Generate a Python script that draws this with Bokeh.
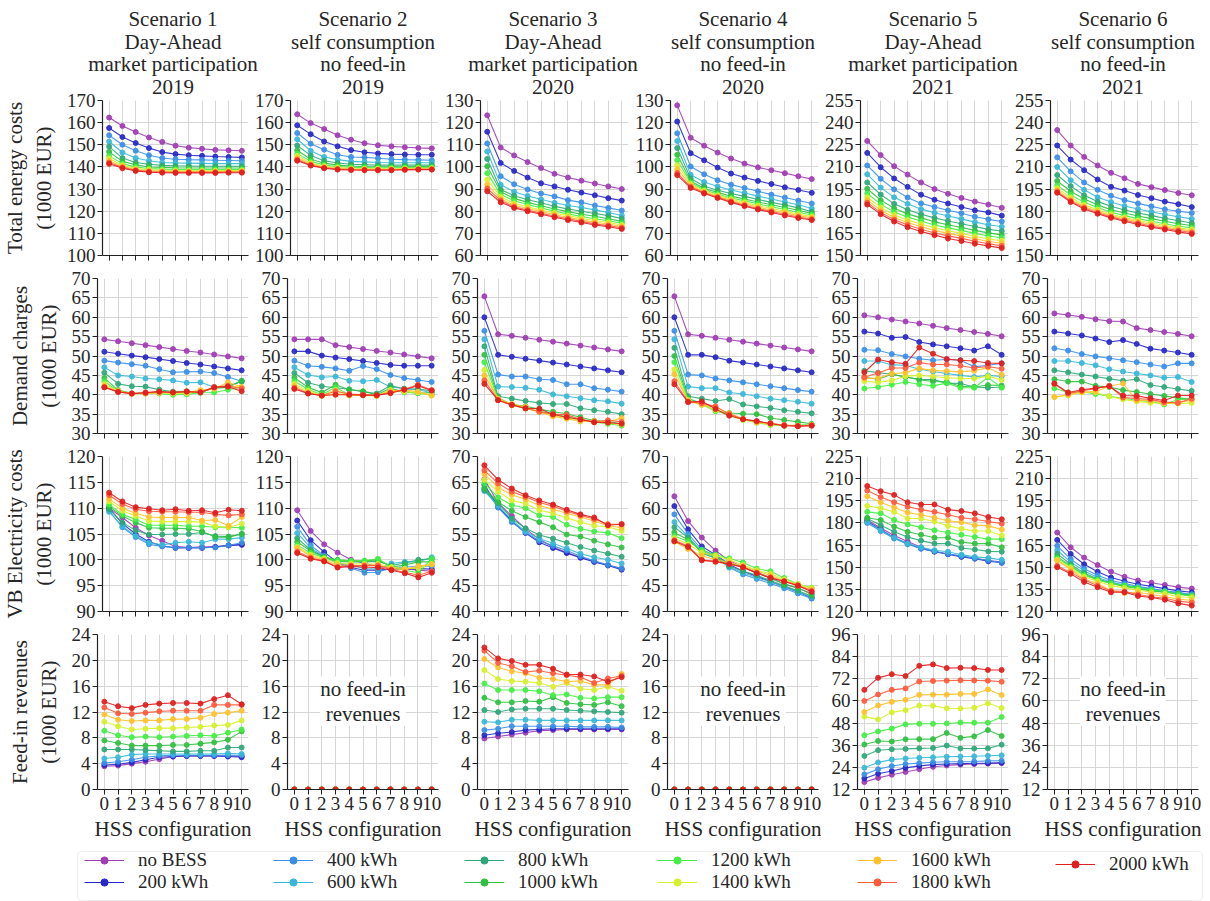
from bokeh.plotting import figure
from bokeh.layouts import column, row
from bokeh.models import FixedTicker, Range1d, Label, Legend, LegendItem, BoxAnnotation
from bokeh.embed import file_html
from bokeh.resources import INLINE

FONT = "Liberation Serif"
TXT = "#262626"
NAN = float("nan")

# ---------------- data ----------------
hss_config = [0, 1, 2, 3, 4, 5, 6, 7, 8, 9, 10]
hss_tick_labels = ["0", "1", "2", "3", "4", "5", "6", "7", "8", "9", "10"]

bess_labels = ["no BESS", "200 kWh", "400 kWh", "600 kWh", "800 kWh", "1000 kWh",
               "1200 kWh", "1400 kWh", "1600 kWh", "1800 kWh", "2000 kWh"]
bess_colors = ["#a03cb4", "#2828c8", "#3a8ee8", "#38b8d8", "#2ea878", "#30c040",
               "#44ee44", "#d6f02c", "#ffc12c", "#ff5a3c", "#e01e1e"]

scenario_titles = [
    ["Scenario 1", "Day-Ahead", "market participation", "2019"],
    ["Scenario 2", "self consumption", "no feed-in", "2019"],
    ["Scenario 3", "Day-Ahead", "market participation", "2020"],
    ["Scenario 4", "self consumption", "no feed-in", "2020"],
    ["Scenario 5", "Day-Ahead", "market participation", "2021"],
    ["Scenario 6", "self consumption", "no feed-in", "2021"],
]
row_labels = ["Total energy costs\n(1000 EUR)", "Demand charges\n(1000 EUR)",
              "VB Electricity costs\n(1000 EUR)", "Feed-in revenues\n(1000 EUR)"]
x_label = "HSS configuration"
no_feed_in_text = "no feed-in\nrevenues"

ticks_total_2019 = [100, 110, 120, 130, 140, 150, 160, 170]
ticks_total_2020 = [60, 70, 80, 90, 100, 110, 120, 130]
ticks_total_2021 = [150, 165, 180, 195, 210, 225, 240, 255]
ticks_demand = [30, 35, 40, 45, 50, 55, 60, 65, 70]
ticks_vb_2019 = [90, 95, 100, 105, 110, 115, 120]
ticks_vb_2020 = [40, 45, 50, 55, 60, 65, 70]
ticks_vb_2021 = [120, 135, 150, 165, 180, 195, 210, 225]
ticks_feedin = [0, 4, 8, 12, 16, 20, 24]
ticks_feedin_2021 = [12, 24, 36, 48, 60, 72, 84, 96]

# Total energy costs (1000 EUR), one list per BESS size
total_s1 = [
    [162.3, 158.5, 155.8, 153.3, 151.3, 149.6, 148.7, 148.2, 147.7, 147.5, 147.3],
    [157.6, 153.5, 150.8, 148.5, 146.7, 145.8, 145.3, 145.0, 144.7, 144.5, 144.3],
    [154.3, 150.0, 147.3, 145.3, 144.0, 143.5, 143.3, 143.2, 143.0, 142.9, 142.8],
    [151.5, 146.5, 144.0, 142.8, 142.0, 141.8, 141.7, 141.6, 141.5, 141.5, 141.5],
    [149.2, 144.0, 142.0, 141.2, 140.7, 140.5, 140.4, 140.3, 140.3, 140.3, 140.3],
    [146.8, 142.5, 141.0, 140.0, 139.8, 139.6, 139.5, 139.5, 139.5, 139.5, 139.5],
    [145.0, 141.5, 140.0, 139.3, 139.0, 138.9, 138.8, 138.8, 138.8, 138.8, 138.9],
    [143.8, 140.8, 139.3, 138.8, 138.5, 138.4, 138.3, 138.3, 138.3, 138.4, 138.4],
    [142.8, 140.2, 138.8, 138.3, 138.0, 137.9, 137.9, 137.9, 137.9, 137.9, 138.0],
    [142.0, 139.8, 138.5, 137.9, 137.7, 137.6, 137.6, 137.6, 137.6, 137.7, 137.7],
    [141.4, 139.4, 138.2, 137.6, 137.4, 137.3, 137.3, 137.3, 137.3, 137.4, 137.4],
]
total_s2 = [
    [163.8, 159.8, 157.1, 154.3, 152.3, 150.7, 149.8, 149.3, 148.9, 148.6, 148.4],
    [158.8, 154.8, 151.5, 149.3, 147.6, 146.6, 146.1, 145.8, 145.6, 145.5, 145.5],
    [155.3, 150.5, 147.8, 145.5, 144.5, 144.3, 143.9, 143.5, 143.3, 143.2, 143.0],
    [152.5, 147.3, 144.5, 143.3, 142.5, 142.3, 142.0, 141.9, 141.9, 141.9, 141.9],
    [149.7, 145.2, 142.8, 141.8, 141.2, 141.0, 140.8, 140.8, 140.8, 140.8, 140.8],
    [147.5, 143.5, 141.7, 140.8, 140.4, 140.2, 140.1, 140.1, 140.1, 140.2, 140.2],
    [146.0, 142.5, 140.9, 140.2, 139.8, 139.7, 139.6, 139.6, 139.7, 139.7, 139.8],
    [145.0, 141.8, 140.3, 139.7, 139.3, 139.2, 139.2, 139.2, 139.3, 139.4, 139.4],
    [144.0, 141.3, 139.9, 139.3, 139.0, 138.9, 138.9, 138.9, 139.0, 139.1, 139.1],
    [143.3, 140.9, 139.6, 139.0, 138.8, 138.7, 138.7, 138.7, 138.8, 138.9, 138.9],
    [142.8, 140.6, 139.4, 138.8, 138.6, 138.5, 138.5, 138.5, 138.7, 138.8, 138.8],
]
total_s3 = [
    [123.3, 108.8, 105.2, 102.2, 99.5, 96.9, 95.2, 93.8, 92.5, 91.2, 90.0],
    [115.9, 101.8, 98.2, 95.2, 92.6, 91.2, 89.7, 88.4, 87.2, 85.9, 84.8],
    [110.6, 95.8, 92.2, 89.8, 88.0, 86.7, 85.0, 84.0, 82.6, 81.5, 80.3],
    [107.0, 92.0, 88.8, 86.9, 85.4, 83.8, 82.6, 81.7, 80.6, 79.4, 78.1],
    [103.6, 89.8, 87.0, 85.2, 83.8, 82.2, 81.0, 80.0, 79.0, 78.0, 76.7],
    [100.3, 88.8, 85.8, 84.0, 82.5, 81.0, 79.8, 78.6, 77.7, 76.6, 75.4],
    [97.2, 87.5, 84.7, 83.0, 81.5, 80.0, 78.8, 77.6, 76.6, 75.7, 74.6],
    [94.3, 86.5, 83.5, 82.0, 80.5, 79.2, 78.0, 76.8, 75.8, 74.9, 73.8],
    [92.0, 85.5, 82.7, 81.2, 79.8, 78.5, 77.2, 76.1, 75.0, 74.2, 73.1],
    [90.3, 84.8, 82.0, 80.5, 79.1, 77.8, 76.6, 75.4, 74.3, 73.5, 72.5],
    [89.0, 84.0, 81.5, 80.0, 78.6, 77.3, 76.0, 74.9, 73.8, 73.0, 72.0],
]
total_s4 = [
    [127.8, 113.2, 109.6, 106.5, 103.8, 101.5, 99.8, 98.5, 97.2, 95.8, 94.5],
    [120.5, 106.2, 103.0, 99.7, 97.0, 95.2, 93.7, 92.3, 90.8, 89.6, 88.3],
    [115.2, 100.2, 96.7, 94.0, 92.0, 90.5, 89.0, 87.5, 86.2, 84.8, 83.5],
    [111.7, 96.5, 93.2, 91.2, 89.6, 88.2, 86.8, 85.5, 84.2, 82.9, 81.2],
    [108.5, 94.8, 91.3, 89.5, 88.0, 86.7, 85.3, 84.0, 82.8, 81.5, 79.8],
    [105.5, 93.6, 90.3, 88.5, 86.8, 85.5, 84.2, 82.9, 81.7, 80.4, 79.0],
    [103.0, 93.0, 89.6, 87.8, 86.0, 84.7, 83.3, 82.0, 80.8, 79.5, 78.3],
    [100.8, 92.3, 89.2, 87.2, 85.4, 84.0, 82.5, 81.2, 80.0, 78.7, 77.6],
    [99.0, 91.7, 88.7, 86.7, 84.9, 83.3, 81.8, 80.5, 79.3, 78.0, 77.0],
    [97.3, 91.0, 88.3, 86.3, 84.4, 82.7, 81.2, 79.9, 78.6, 77.4, 76.4],
    [96.3, 90.5, 88.0, 86.0, 84.0, 82.3, 80.8, 79.4, 78.1, 76.9, 76.0],
]
total_s5 = [
    [227.6, 218.0, 210.5, 204.8, 199.5, 195.0, 191.8, 189.0, 186.5, 184.5, 182.3],
    [219.5, 209.8, 202.2, 196.5, 191.2, 187.8, 185.2, 182.8, 180.6, 179.2, 177.0],
    [211.0, 202.0, 194.8, 189.3, 185.3, 182.8, 180.6, 178.6, 176.3, 174.5, 173.0],
    [205.0, 196.0, 189.4, 185.0, 181.4, 179.0, 176.8, 174.8, 172.6, 170.8, 169.5],
    [199.5, 191.3, 185.0, 181.0, 178.0, 175.5, 173.4, 171.5, 169.7, 167.7, 166.6],
    [195.2, 187.5, 182.0, 178.2, 175.5, 172.8, 170.8, 169.0, 167.0, 165.3, 164.0],
    [192.0, 184.8, 179.5, 176.0, 173.4, 170.7, 168.7, 167.0, 165.0, 163.2, 162.0],
    [189.5, 182.5, 177.5, 174.0, 171.3, 168.8, 166.8, 165.0, 163.0, 161.2, 160.0],
    [187.5, 180.7, 175.8, 172.3, 169.5, 167.0, 165.0, 163.3, 161.3, 159.5, 158.3],
    [185.8, 179.2, 174.3, 170.6, 167.8, 165.3, 163.3, 161.6, 159.6, 158.0, 156.5],
    [184.5, 178.0, 173.0, 169.2, 166.3, 163.8, 161.5, 159.8, 158.0, 156.5, 155.0],
]
total_s6 = [
    [235.0, 224.5, 216.8, 211.0, 206.0, 202.3, 198.5, 196.3, 194.3, 192.3, 190.8],
    [224.5, 215.0, 207.8, 201.5, 196.5, 194.0, 191.0, 188.8, 186.5, 184.8, 182.8],
    [216.5, 207.0, 199.5, 194.5, 190.5, 187.5, 185.3, 183.3, 181.3, 180.0, 178.8],
    [210.0, 201.0, 194.5, 189.5, 186.2, 183.5, 181.5, 179.6, 177.8, 176.2, 174.8],
    [204.5, 197.0, 190.8, 186.5, 183.3, 180.8, 178.8, 177.0, 175.2, 173.5, 172.0],
    [200.5, 193.5, 188.3, 184.3, 181.0, 178.8, 176.8, 175.0, 173.2, 171.5, 170.3],
    [197.5, 191.0, 186.0, 182.5, 179.3, 177.0, 175.0, 173.2, 171.5, 169.8, 168.8],
    [195.5, 189.3, 184.3, 181.0, 178.0, 175.8, 173.7, 172.0, 170.3, 168.7, 167.6],
    [194.3, 188.0, 183.2, 180.0, 177.0, 174.8, 172.8, 171.0, 169.3, 167.8, 166.5],
    [193.3, 187.0, 182.3, 179.0, 176.2, 173.9, 171.8, 170.0, 168.4, 166.9, 165.5],
    [192.5, 186.2, 181.5, 178.3, 175.5, 173.2, 171.0, 169.2, 167.6, 166.0, 164.6],
]

# Demand charges (1000 EUR)
demand_s1 = [
    [54.3, 53.8, 53.3, 52.8, 52.3, 51.8, 51.3, 50.9, 50.4, 49.9, 49.4],
    [51.1, 50.6, 50.1, 49.7, 49.2, 48.7, 48.2, 47.8, 47.3, 46.8, 46.3],
    [48.8, 48.3, 47.9, 47.5, 46.6, 45.8, 45.9, 46.0, 45.6, 44.6, 43.5],
    [47.1, 45.0, 44.7, 44.2, 44.0, 43.7, 43.1, 43.2, 42.0, 42.0, 43.6],
    [45.7, 42.8, 42.2, 42.1, 41.3, 40.8, 40.9, 40.6, 41.8, 42.2, 43.4],
    [44.3, 41.2, 40.4, 40.3, 40.9, 40.5, 40.6, 40.7, 41.7, 41.9, 43.6],
    [43.5, 40.9, 40.3, 40.5, 40.3, 40.0, 40.1, 40.5, 40.6, 41.3, 42.0],
    [42.8, 41.0, 40.2, 40.4, 40.5, 40.3, 40.4, 40.7, 41.8, 42.3, 41.9],
    [42.3, 40.9, 40.3, 40.3, 40.5, 40.5, 40.6, 41.2, 41.5, 43.2, 42.0],
    [42.0, 40.8, 40.3, 40.6, 40.8, 40.6, 40.9, 40.7, 42.0, 42.3, 41.6],
    [41.9, 40.7, 40.3, 40.5, 40.8, 40.6, 40.8, 40.6, 41.9, 42.1, 40.9],
]
demand_s2 = [
    [54.3, 54.3, 54.3, 52.8, 52.3, 51.8, 51.3, 50.9, 50.4, 49.9, 49.4],
    [51.2, 51.2, 50.1, 49.6, 49.2, 48.7, 48.2, 47.7, 47.5, 47.5, 47.5],
    [48.8, 47.5, 47.2, 46.8, 46.2, 47.4, 46.6, 45.1, 44.3, 43.8, 43.3],
    [47.1, 45.1, 44.5, 44.7, 43.6, 43.5, 43.8, 42.0, 41.6, 41.3, 40.5],
    [45.6, 43.1, 42.2, 41.8, 41.4, 40.8, 40.3, 42.4, 41.5, 41.5, 41.0],
    [44.4, 41.9, 40.6, 42.6, 41.3, 40.9, 40.0, 41.7, 40.7, 40.4, 40.6],
    [43.5, 41.4, 40.0, 41.9, 40.0, 40.0, 39.7, 41.2, 40.8, 40.4, 40.0],
    [42.8, 41.0, 39.8, 41.2, 39.8, 39.8, 39.7, 41.2, 40.8, 40.6, 39.8],
    [42.3, 40.6, 39.7, 40.3, 39.9, 39.9, 39.8, 40.9, 41.2, 40.8, 39.8],
    [41.8, 40.4, 39.8, 40.9, 40.2, 40.0, 39.8, 40.6, 41.4, 42.6, 41.2],
    [41.5, 40.3, 39.8, 40.0, 40.0, 39.9, 39.9, 40.4, 41.3, 42.3, 41.1],
]
demand_s3 = [
    [65.4, 55.6, 55.2, 54.7, 54.2, 53.7, 53.2, 52.7, 52.2, 51.7, 51.2],
    [60.0, 50.3, 49.8, 49.3, 48.8, 48.3, 47.8, 47.3, 46.8, 46.3, 45.8],
    [56.5, 45.2, 44.7, 44.7, 44.0, 43.8, 42.7, 42.7, 41.7, 41.3, 40.8],
    [54.3, 42.1, 42.0, 41.8, 41.3, 40.1, 39.6, 39.1, 38.6, 38.3, 37.7],
    [52.5, 39.6, 39.0, 38.4, 37.9, 37.6, 37.6, 36.5, 36.0, 35.6, 35.0],
    [50.3, 39.2, 37.5, 37.0, 36.3, 35.6, 35.1, 34.2, 33.3, 33.1, 32.5],
    [48.4, 38.9, 37.3, 36.4, 35.8, 35.0, 34.3, 33.6, 32.9, 32.5, 32.0],
    [46.4, 38.8, 37.4, 36.5, 35.6, 34.6, 34.0, 33.4, 32.9, 32.7, 32.3],
    [45.0, 39.0, 37.6, 36.9, 35.6, 34.4, 33.8, 33.1, 33.2, 33.0, 34.0],
    [43.7, 38.6, 37.3, 36.5, 35.6, 35.0, 34.8, 33.7, 33.0, 33.4, 33.0],
    [42.8, 38.6, 37.4, 36.5, 36.4, 34.9, 34.2, 33.6, 32.9, 32.8, 32.5],
]
demand_s4 = [
    [65.4, 55.6, 55.2, 54.7, 54.2, 53.7, 53.2, 52.7, 52.2, 51.7, 51.2],
    [60.0, 50.3, 50.3, 49.7, 48.8, 48.3, 47.8, 47.3, 46.8, 46.3, 45.8],
    [56.5, 45.2, 45.0, 44.2, 43.7, 43.2, 42.7, 42.2, 41.7, 41.2, 40.8],
    [54.3, 42.1, 41.7, 41.7, 40.6, 40.2, 39.6, 39.0, 38.6, 38.2, 37.7],
    [52.1, 39.6, 39.0, 38.4, 38.9, 37.5, 37.0, 36.6, 36.0, 35.6, 35.2],
    [50.0, 39.0, 37.8, 35.8, 35.3, 35.1, 35.0, 34.0, 33.5, 33.0, 32.5],
    [48.4, 38.7, 37.5, 35.8, 34.8, 33.6, 32.8, 32.2, 32.0, 32.2, 32.3],
    [46.5, 38.6, 37.4, 36.0, 34.8, 33.5, 32.9, 32.3, 32.1, 32.0, 32.1],
    [45.3, 38.4, 37.4, 36.7, 35.2, 33.8, 32.8, 32.5, 32.2, 32.0, 32.2],
    [43.5, 38.2, 37.8, 37.0, 35.0, 33.7, 33.1, 32.6, 32.2, 31.9, 32.1],
    [42.7, 38.1, 38.3, 36.3, 34.6, 33.7, 33.2, 32.6, 32.0, 31.9, 32.0],
]
demand_s5 = [
    [60.5, 60.0, 59.4, 58.9, 58.4, 57.8, 57.2, 56.7, 56.2, 55.7, 55.1],
    [56.3, 55.8, 54.7, 54.9, 53.6, 53.0, 52.5, 52.0, 51.4, 52.5, 50.3],
    [51.6, 51.5, 50.5, 49.9, 49.3, 48.9, 49.1, 48.9, 47.2, 47.6, 48.1],
    [48.7, 48.7, 47.7, 47.6, 46.6, 46.0, 45.5, 45.0, 44.6, 45.0, 44.7],
    [46.2, 45.7, 45.3, 44.6, 44.0, 43.9, 43.0, 42.9, 42.0, 41.8, 42.0],
    [44.5, 44.0, 45.3, 44.6, 43.9, 43.4, 43.3, 42.2, 42.0, 42.5, 42.4],
    [41.6, 42.0, 42.6, 43.3, 42.7, 42.3, 43.0, 41.8, 41.8, 44.5, 41.8],
    [43.5, 43.2, 43.7, 44.8, 45.0, 44.7, 44.4, 44.2, 44.2, 44.8, 43.8],
    [44.2, 44.3, 45.4, 45.7, 46.8, 46.3, 46.1, 45.9, 46.2, 47.0, 45.2],
    [44.5, 45.6, 46.9, 46.9, 48.3, 47.8, 47.8, 47.5, 46.9, 47.3, 46.7],
    [45.8, 49.1, 48.4, 48.0, 52.2, 50.6, 49.2, 48.9, 48.7, 48.2, 48.1],
]
demand_s6 = [
    [61.0, 60.6, 60.1, 59.5, 59.0, 58.9, 57.2, 56.7, 56.2, 55.7, 55.1],
    [56.3, 55.8, 55.3, 54.5, 53.6, 54.1, 53.1, 51.9, 51.4, 50.9, 50.3],
    [52.0, 51.4, 50.5, 49.9, 49.4, 48.9, 48.4, 47.8, 47.3, 48.1, 48.1],
    [48.7, 48.7, 48.2, 47.6, 46.6, 46.0, 45.5, 45.0, 44.4, 44.6, 43.3],
    [46.3, 45.8, 45.2, 44.7, 44.1, 43.6, 44.0, 42.5, 42.0, 41.5, 41.0],
    [44.0, 43.4, 43.4, 42.3, 42.0, 41.2, 40.7, 40.2, 39.7, 39.2, 38.8],
    [41.7, 40.6, 40.8, 40.2, 39.6, 39.1, 38.6, 38.3, 37.5, 38.8, 38.8],
    [39.4, 39.8, 40.6, 40.6, 39.6, 38.8, 38.3, 37.9, 37.8, 37.7, 37.9],
    [39.4, 40.0, 40.7, 40.8, 42.2, 42.9, 38.5, 38.5, 37.8, 38.0, 38.6],
    [42.8, 40.3, 41.0, 41.6, 42.3, 39.3, 39.0, 38.8, 38.1, 37.9, 39.0],
    [42.9, 40.6, 41.3, 41.7, 42.2, 39.8, 39.7, 39.1, 38.5, 39.8, 39.8],
]

# VB electricity costs (1000 EUR)
vb_s1 = [
    [110.0, 108.2, 106.2, 104.7, 103.7, 102.6, 102.4, 102.5, 102.5, 102.8, 103.0],
    [110.0, 107.0, 105.0, 103.5, 102.7, 102.3, 102.3, 102.3, 102.5, 102.8, 102.9],
    [109.5, 106.3, 104.4, 103.0, 102.6, 102.4, 102.4, 102.4, 102.4, 102.8, 103.3],
    [109.3, 106.5, 104.6, 103.3, 102.9, 103.3, 103.5, 103.3, 104.0, 104.0, 104.3],
    [109.8, 107.2, 105.7, 104.9, 104.9, 105.0, 105.0, 105.3, 104.6, 104.5, 105.0],
    [110.3, 108.5, 107.2, 106.2, 106.1, 106.1, 106.0, 105.5, 104.4, 104.4, 105.0],
    [110.7, 108.8, 107.8, 106.7, 106.7, 106.7, 106.5, 106.5, 106.3, 106.3, 106.2],
    [111.3, 109.5, 108.5, 107.5, 107.4, 107.4, 107.4, 107.3, 106.5, 106.3, 107.0],
    [111.8, 110.0, 109.0, 108.3, 108.2, 108.2, 108.2, 107.6, 107.7, 106.6, 108.3],
    [112.5, 110.8, 109.8, 109.4, 109.3, 109.3, 109.2, 109.2, 108.8, 108.6, 108.8],
    [113.0, 111.3, 110.2, 109.9, 109.6, 109.8, 109.5, 109.6, 109.1, 109.7, 109.5],
]
vb_s2 = [
    [109.6, 105.6, 103.0, 101.4, 100.0, 99.3, 98.8, 98.5, 98.3, 98.0, 97.8],
    [107.6, 103.8, 101.5, 99.5, 98.5, 98.0, 98.0, 98.2, 98.2, 98.3, 98.2],
    [106.4, 102.8, 100.8, 99.2, 98.4, 97.5, 97.6, 98.5, 98.6, 98.7, 98.8],
    [105.2, 102.3, 100.6, 99.4, 99.0, 98.3, 98.2, 99.3, 99.6, 99.6, 100.5],
    [104.2, 101.9, 100.6, 99.7, 99.6, 99.6, 99.7, 98.9, 99.4, 100.0, 100.2],
    [103.5, 101.7, 100.5, 100.0, 99.8, 99.8, 100.0, 98.6, 99.0, 99.6, 99.6],
    [102.9, 101.3, 100.4, 99.8, 99.8, 99.8, 100.2, 98.6, 98.0, 97.5, 100.2],
    [102.5, 101.0, 100.2, 99.4, 99.3, 99.2, 99.2, 98.6, 98.3, 98.4, 99.2],
    [102.3, 100.7, 100.0, 99.0, 99.0, 98.9, 99.0, 98.3, 98.1, 98.8, 99.1],
    [101.6, 100.4, 99.8, 98.6, 98.9, 98.9, 98.9, 98.1, 97.6, 97.0, 97.8],
    [101.3, 100.2, 99.7, 98.5, 98.7, 98.6, 98.5, 98.0, 97.4, 96.6, 97.5],
]
vb_s3 = [
    [65.6, 61.0, 58.5, 56.0, 54.0, 52.5, 51.4, 50.5, 49.7, 49.0, 48.3],
    [64.5, 60.3, 57.5, 55.2, 53.4, 52.3, 51.3, 50.4, 49.6, 48.9, 48.1],
    [63.8, 60.1, 57.3, 55.3, 53.7, 52.7, 51.8, 50.7, 49.8, 49.0, 48.3],
    [63.3, 60.5, 57.7, 55.5, 54.1, 53.2, 52.2, 51.2, 50.5, 50.0, 49.3],
    [63.5, 61.0, 58.0, 56.1, 54.8, 54.1, 53.3, 52.5, 51.8, 51.2, 50.6],
    [63.9, 61.2, 59.5, 58.3, 57.3, 56.3, 54.9, 54.5, 53.7, 53.0, 52.4],
    [64.8, 62.1, 60.6, 60.0, 58.6, 58.3, 56.8, 56.0, 55.5, 55.2, 54.2],
    [65.5, 63.2, 61.5, 60.9, 59.6, 59.0, 58.1, 57.3, 56.6, 56.4, 55.6],
    [66.6, 64.0, 62.6, 61.7, 60.5, 59.8, 59.0, 58.3, 57.5, 56.6, 56.2],
    [67.3, 64.8, 63.2, 62.2, 61.1, 60.4, 59.4, 58.6, 57.9, 56.9, 56.9],
    [68.3, 65.5, 63.8, 62.5, 61.5, 60.7, 59.7, 58.8, 58.2, 56.7, 56.9],
]
vb_s4 = [
    [62.3, 57.5, 54.3, 51.8, 49.8, 48.6, 47.6, 46.5, 45.3, 44.5, 43.5],
    [60.4, 55.9, 52.6, 51.0, 49.1, 47.8, 46.8, 45.8, 44.8, 43.8, 42.6],
    [58.8, 55.0, 52.0, 50.7, 48.5, 47.2, 46.3, 45.4, 44.5, 43.5, 42.5],
    [57.3, 54.5, 51.6, 50.5, 48.6, 47.5, 46.6, 45.7, 44.8, 43.8, 42.8],
    [56.3, 54.3, 51.3, 50.3, 48.8, 47.8, 47.0, 46.0, 45.0, 44.0, 43.0],
    [55.3, 53.9, 51.6, 50.6, 49.4, 48.5, 47.5, 46.5, 45.3, 44.6, 43.3],
    [54.6, 53.6, 51.9, 51.0, 50.3, 49.5, 48.3, 47.8, 46.5, 45.3, 44.6],
    [54.2, 53.0, 51.4, 50.8, 50.0, 49.0, 48.0, 47.3, 46.2, 45.3, 44.5],
    [53.5, 52.1, 50.8, 50.0, 49.5, 48.8, 47.8, 47.0, 45.9, 45.0, 44.3],
    [53.8, 52.7, 50.0, 49.6, 49.2, 48.5, 47.5, 46.6, 45.9, 45.1, 44.0],
    [53.6, 52.5, 49.9, 49.7, 49.2, 48.6, 47.4, 46.5, 45.8, 45.0, 43.8],
]
vb_s5 = [
    [182.0, 176.5, 171.5, 167.5, 163.5, 160.8, 159.0, 157.5, 156.0, 154.5, 153.5],
    [181.0, 175.5, 170.0, 166.0, 162.7, 160.5, 158.8, 157.0, 155.8, 154.0, 153.0],
    [180.0, 174.5, 169.5, 165.5, 162.5, 160.7, 159.0, 157.5, 156.0, 154.5, 153.0],
    [180.5, 175.0, 170.0, 166.0, 163.5, 161.5, 160.5, 158.5, 157.0, 156.3, 155.0],
    [183.0, 178.5, 174.0, 170.5, 168.0, 166.0, 166.0, 163.0, 162.0, 160.7, 160.5],
    [183.5, 182.0, 177.5, 174.0, 172.0, 170.0, 170.0, 167.0, 166.0, 166.0, 163.5],
    [187.5, 186.5, 182.0, 179.0, 177.0, 175.0, 173.5, 172.0, 170.5, 169.0, 169.0],
    [191.5, 190.0, 187.5, 183.0, 183.0, 181.0, 178.0, 176.0, 174.5, 174.5, 171.5],
    [198.0, 194.0, 190.5, 187.0, 185.5, 183.5, 181.5, 180.5, 178.5, 178.0, 175.5],
    [202.0, 197.5, 194.0, 191.0, 189.0, 187.5, 185.5, 183.5, 182.5, 181.0, 179.5],
    [205.0, 201.5, 199.0, 194.0, 192.5, 192.5, 189.0, 188.0, 186.5, 184.0, 182.5],
]
vb_s6 = [
    [173.5, 163.5, 156.5, 151.5, 147.0, 143.5, 141.0, 139.5, 138.0, 136.5, 135.5],
    [168.5, 159.0, 152.0, 147.0, 143.0, 140.5, 138.5, 137.0, 135.5, 134.0, 133.0],
    [164.5, 155.5, 149.0, 144.5, 141.0, 139.0, 137.0, 135.5, 134.0, 133.0, 131.5],
    [161.5, 153.5, 147.5, 143.0, 140.0, 138.0, 136.5, 135.0, 133.5, 132.5, 131.5],
    [159.0, 152.0, 146.0, 142.0, 139.5, 137.5, 136.0, 134.5, 133.0, 132.0, 131.0],
    [157.0, 151.0, 145.0, 141.5, 139.0, 137.0, 135.5, 134.0, 133.0, 132.0, 130.5],
    [156.0, 150.5, 144.5, 141.5, 139.0, 137.5, 136.0, 134.5, 133.5, 131.5, 130.5],
    [155.0, 149.5, 143.5, 140.5, 137.5, 136.0, 134.5, 133.0, 132.0, 130.0, 129.5],
    [154.5, 148.5, 142.0, 139.0, 134.0, 132.5, 133.0, 131.5, 130.0, 128.5, 127.5],
    [151.0, 146.5, 141.5, 137.5, 134.0, 133.5, 131.5, 130.0, 129.0, 127.0, 126.0],
    [150.0, 145.5, 140.0, 136.5, 133.0, 133.0, 130.5, 129.5, 128.0, 125.5, 124.0],
]

# Feed-in revenues (1000 EUR)
feedin_s1 = [
    [3.6, 3.7, 4.0, 4.3, 4.7, 5.1, 5.2, 5.2, 5.2, 5.2, 5.1],
    [3.8, 3.9, 4.2, 4.6, 5.0, 5.1, 5.2, 5.2, 5.2, 5.1, 5.0],
    [4.1, 4.3, 4.6, 5.0, 5.2, 5.3, 5.3, 5.3, 5.3, 5.3, 5.3],
    [4.8, 5.0, 5.4, 5.5, 5.5, 5.5, 5.5, 5.5, 5.5, 5.6, 5.5],
    [6.2, 6.2, 6.2, 6.1, 6.0, 5.9, 5.9, 6.0, 6.0, 6.5, 6.5],
    [7.6, 7.2, 6.8, 6.8, 6.8, 6.9, 6.9, 7.1, 7.3, 7.7, 9.0],
    [9.1, 8.4, 8.1, 8.2, 8.1, 8.2, 8.3, 8.4, 8.3, 8.8, 9.3],
    [10.5, 9.8, 9.3, 9.4, 9.5, 9.5, 9.6, 9.7, 9.9, 10.0, 10.7],
    [11.6, 10.8, 10.6, 10.7, 10.7, 10.9, 10.9, 11.1, 11.7, 11.9, 12.2],
    [12.7, 11.8, 11.7, 11.9, 12.1, 12.2, 12.2, 12.2, 13.1, 13.1, 13.1],
    [13.6, 12.9, 12.6, 13.1, 13.3, 13.4, 13.4, 13.3, 14.0, 14.6, 13.2],
]
feedin_s3 = [
    [7.9, 8.2, 8.5, 8.8, 9.1, 9.2, 9.3, 9.3, 9.3, 9.3, 9.3],
    [8.4, 8.7, 8.9, 9.2, 9.3, 9.4, 9.4, 9.4, 9.4, 9.4, 9.4],
    [9.2, 9.4, 9.8, 9.8, 9.8, 9.8, 9.8, 9.7, 9.7, 9.7, 9.6],
    [10.5, 10.4, 10.8, 10.8, 10.7, 10.7, 10.7, 10.7, 10.7, 10.7, 10.7],
    [12.3, 12.0, 12.4, 12.5, 12.5, 12.5, 12.3, 12.2, 12.1, 12.0, 11.9],
    [14.2, 13.5, 13.5, 13.7, 13.6, 14.3, 13.4, 13.2, 13.1, 13.5, 12.9],
    [16.4, 15.4, 15.4, 15.4, 15.2, 14.6, 14.7, 14.2, 14.1, 14.3, 14.3],
    [18.5, 17.1, 16.8, 16.7, 16.5, 15.9, 16.5, 15.6, 15.4, 15.9, 15.3],
    [20.2, 18.9, 18.3, 18.0, 17.3, 17.1, 16.7, 16.8, 16.2, 16.2, 17.9],
    [21.5, 19.6, 19.1, 18.2, 18.4, 18.0, 17.7, 17.4, 16.5, 17.2, 17.6],
    [22.0, 20.3, 19.9, 19.3, 19.3, 18.7, 17.8, 17.8, 17.5, 16.7, 17.4],
]
feedin_s5 = [
    [16.0, 18.3, 20.0, 21.5, 23.0, 24.3, 25.0, 25.5, 25.8, 26.0, 26.3],
    [18.0, 20.5, 22.0, 23.7, 24.8, 25.5, 25.8, 26.0, 26.2, 26.3, 26.5],
    [20.2, 23.0, 24.7, 25.8, 26.3, 26.8, 27.0, 27.0, 27.2, 27.5, 27.6],
    [23.8, 26.7, 28.2, 28.8, 29.2, 29.5, 29.8, 29.9, 30.0, 30.3, 30.5],
    [30.2, 33.3, 33.8, 34.0, 34.3, 34.5, 35.8, 34.2, 34.2, 34.3, 36.3],
    [36.4, 38.3, 38.0, 39.2, 39.3, 39.3, 42.6, 40.0, 40.8, 44.2, 41.0],
    [41.4, 43.5, 45.0, 47.3, 47.6, 47.6, 47.8, 48.3, 48.2, 48.2, 51.3],
    [51.5, 50.0, 53.8, 55.0, 57.5, 57.4, 56.0, 55.9, 56.3, 58.7, 56.2],
    [54.0, 57.5, 59.5, 60.6, 63.3, 63.4, 63.4, 63.8, 63.8, 66.2, 63.2],
    [60.0, 63.5, 66.0, 66.8, 70.5, 70.8, 71.0, 71.2, 71.1, 71.0, 70.4],
    [66.0, 72.5, 74.5, 73.5, 79.0, 79.8, 77.8, 78.0, 77.8, 76.8, 76.8],
]
no_feed_in = [0, 0, 0, 0, 0, 0, 0, 0, 0, 0, 0]
feedin_none = [no_feed_in] * len(bess_labels)

panels = [
    [(total_s1, ticks_total_2019), (total_s2, ticks_total_2019), (total_s3, ticks_total_2020),
     (total_s4, ticks_total_2020), (total_s5, ticks_total_2021), (total_s6, ticks_total_2021)],
    [(demand_s1, ticks_demand), (demand_s2, ticks_demand), (demand_s3, ticks_demand),
     (demand_s4, ticks_demand), (demand_s5, ticks_demand), (demand_s6, ticks_demand)],
    [(vb_s1, ticks_vb_2019), (vb_s2, ticks_vb_2019), (vb_s3, ticks_vb_2020),
     (vb_s4, ticks_vb_2020), (vb_s5, ticks_vb_2021), (vb_s6, ticks_vb_2021)],
    [(feedin_s1, ticks_feedin), (feedin_none, ticks_feedin), (feedin_s3, ticks_feedin),
     (feedin_none, ticks_feedin), (feedin_s5, ticks_feedin_2021), (feedin_none, ticks_feedin_2021)],
]
no_feed_in_panels = {1, 3, 5}

# ---------------- layout constants ----------------
PAGE_W = 1210
FRAME_W, FRAME_H = 151, 155
FIRST_LEFT, OTHER_LEFT, RIGHT = 97, 36, 3
HEADER_H = 100
ROW_TOP = 12        # top border of every panel row
frame_lefts = []
_x = 0
for c in range(6):
    left = FIRST_LEFT if c == 0 else OTHER_LEFT
    frame_lefts.append(_x + left)
    _x += left + FRAME_W + RIGHT

# ---------------- header (scenario titles) ----------------
header = figure(width=PAGE_W, height=HEADER_H, output_backend="svg", toolbar_location=None,
                title=None, x_range=Range1d(0, PAGE_W), y_range=Range1d(0, HEADER_H),
                x_axis_location=None, y_axis_location=None,
                min_border_left=0, min_border_right=0, min_border_top=0, min_border_bottom=0,
                outline_line_color=None, border_fill_color="white")
header.grid.visible = False
title_line_centres = [18, 41, 63.5, 86]  # distance of each title line from the page top
for c in range(6):
    for line, yc in zip(scenario_titles[c], title_line_centres):
        header.add_layout(Label(x=frame_lefts[c] + FRAME_W / 2, y=HEADER_H - yc, text=line,
                                text_align="center", text_baseline="middle",
                                text_font=FONT, text_font_size="21px", text_color=TXT))

# ---------------- panels ----------------
grid_rows = []
for r in range(4):
    figs = []
    for c in range(6):
        series_set, ticks = panels[r][c]
        lo, hi = ticks[0], ticks[-1]
        left = FIRST_LEFT if c == 0 else OTHER_LEFT
        bottom = 60 if r == 3 else 11
        p = figure(width=left + FRAME_W + RIGHT, height=ROW_TOP + FRAME_H + bottom,
                   output_backend="svg", toolbar_location=None, title=None,
                   x_range=Range1d(-0.5, 10.5), y_range=Range1d(lo, hi),
                   min_border_left=left, min_border_right=RIGHT,
                   min_border_top=ROW_TOP, min_border_bottom=bottom,
                   outline_line_color=None, background_fill_color="white",
                   border_fill_color=None if r == 0 else "white")
        p.xgrid.ticker = FixedTicker(ticks=hss_config)
        p.ygrid.ticker = FixedTicker(ticks=ticks)
        p.grid.grid_line_color = "#d6d6d6"
        p.grid.grid_line_width = 1
        xa = p.xaxis[0]
        ya = p.yaxis[0]
        xa.ticker = FixedTicker(ticks=hss_config)
        xa.major_label_overrides = {v: s for v, s in zip(hss_config, hss_tick_labels)}
        ya.ticker = FixedTicker(ticks=ticks)
        for ax in (xa, ya):
            ax.axis_line_color = "#222222"
            ax.axis_line_width = 1.2
            ax.major_tick_line_color = "#222222"
            ax.major_tick_out = 5
            ax.major_tick_in = 0
            ax.minor_tick_line_color = None
            ax.major_label_text_font = FONT
            ax.major_label_text_font_size = "19px"
            ax.major_label_text_color = TXT
            ax.axis_label_text_font = FONT
            ax.axis_label_text_font_size = "21px"
            ax.axis_label_text_font_style = "normal"
            ax.axis_label_text_color = TXT
        ya.major_label_standoff = 2
        if r == 3:
            xa.axis_label = x_label
            xa.major_label_standoff = 2
            xa.axis_label_standoff = 4
        else:
            # tick marks only, no tick labels on the upper rows
            xa.major_label_text_color = None
            xa.major_label_text_font_size = "1px"
            xa.major_label_standoff = 0
        if c == 0:
            ya.axis_label = row_labels[r]
            ya.axis_label_standoff = 8
        for i, vals in enumerate(series_set):
            p.line(hss_config, vals, line_color=bess_colors[i], line_width=1.1, line_alpha=0.9)
            p.scatter(hss_config, vals, marker="circle", size=5,
                      fill_color=bess_colors[i], line_color=bess_colors[i], alpha=0.9)
        if r == 3 and c in no_feed_in_panels:
            p.add_layout(Label(x=5, y=lo + 0.57 * (hi - lo), text=no_feed_in_text,
                               text_align="center", text_baseline="middle",
                               text_font=FONT, text_font_size="21px", text_color=TXT,
                               background_fill_color="white", text_line_height=1.05))
        figs.append(p)
    # the first panel row slides up under the header so that its (transparent)
    # top border overlaps the last title line without clipping either text
    grid_rows.append(row(*figs, spacing=0,
                         margin=(-ROW_TOP, 0, 0, 0) if r == 0 else 0))

# ---------------- legend ----------------
lg = figure(width=PAGE_W, height=52, output_backend="svg", toolbar_location=None, title=None,
            x_range=Range1d(0, PAGE_W), y_range=Range1d(0, 52),
            x_axis_location=None, y_axis_location=None,
            min_border_left=0, min_border_right=0, min_border_top=0, min_border_bottom=0,
            outline_line_color=None, border_fill_color="white")
lg.grid.visible = False
lg.add_layout(BoxAnnotation(left=77, right=1202, bottom=1, top=50, fill_color="white",
                            fill_alpha=1, line_color="#c8c8c8", line_width=1.2,
                            border_radius=4))
leg_lines, leg_dots = [], []
for col in bess_colors:
    leg_lines.append(lg.line(x=[NAN], y=[NAN], line_color=col, line_width=1.1))
    leg_dots.append(lg.scatter(x=[NAN], y=[NAN], marker="circle", size=5,
                               fill_color=col, line_color=col))
legend_groups = [[0, 1], [2, 3], [4, 5], [6, 7], [8, 9], [10]]
legend_x = [84, 273, 464, 657, 857, 1055]
for grp, x0 in zip(legend_groups, legend_x):
    items = [LegendItem(label=bess_labels[i], renderers=[leg_lines[i], leg_dots[i]]) for i in grp]
    lgd = Legend(items=items, location=(x0, 44 - 18 * len(grp)), orientation="vertical",
                 padding=0, spacing=0, margin=0, glyph_width=40, glyph_height=18,
                 label_height=18, label_standoff=14, label_text_font=FONT,
                 label_text_font_size="19px", label_text_color=TXT,
                 border_line_color=None, background_fill_alpha=0)
    lg.add_layout(lgd)

layout = column(header, *grid_rows, lg, spacing=0)
open("out.html", "w").write(file_html(layout, INLINE))
